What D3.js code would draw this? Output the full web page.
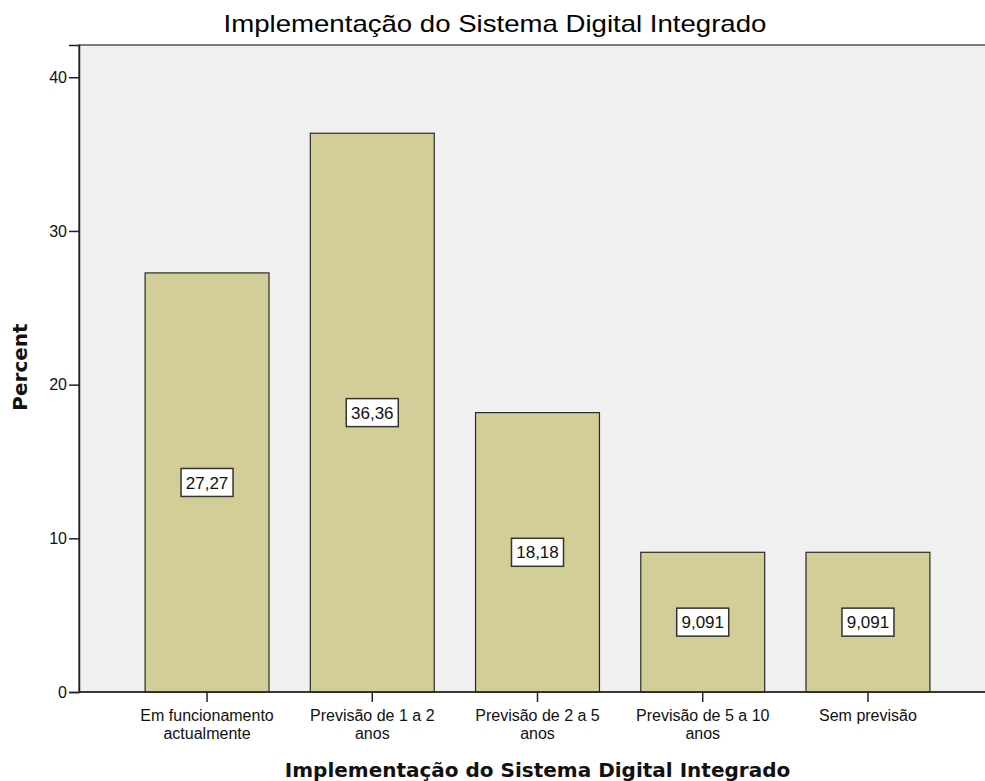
<!DOCTYPE html>
<html>
<head>
<meta charset="utf-8">
<script src="https://cdn.jsdelivr.net/npm/d3@7"></script>
<style>
  body { margin: 0; background: #fff; }
  svg { display: block; }
</style>
</head>
<body>
<div id="chart"></div>
<script>
// Chart data
const categories = ['Em funcionamento\nactualmente', 'Previsão de 1 a 2\nanos', 'Previsão de 2 a 5\nanos', 'Previsão de 5 a 10\nanos', 'Sem previsão'];
const percents = [27.27, 36.36, 18.18, 9.091, 9.091];
const valueLabels = ['27,27', '36,36', '18,18', '9,091', '9,091'];
const yTicks = [0, 10, 20, 30, 40];
const chartTitle = 'Implementação do Sistema Digital Integrado';
const xTitle = 'Implementação do Sistema Digital Integrado';
const yTitle = 'Percent';

const width = 985, height = 781;
const plotLeft = 79, plotRight = 996, plotTop = 45, plotBottom = 692;

const svg = d3.select('#chart').append('svg')
  .attr('width', width)
  .attr('height', height);

// Scales
const x = d3.scaleBand()
  .domain(categories)
  .range([plotLeft, plotRight])
  .paddingInner(0.25)
  .paddingOuter(0.4);

const y = d3.scaleLinear()
  .domain([0, 42.1])
  .range([plotBottom, plotTop]);

// Plot background
svg.append('rect')
  .attr('x', plotLeft)
  .attr('y', plotTop)
  .attr('width', width - plotLeft + 10)
  .attr('height', plotBottom - plotTop)
  .attr('fill', '#f0f0f0')
  .attr('stroke', '#555')
  .attr('stroke-width', 1.5);

// Bars
svg.selectAll('rect.bar')
  .data(percents)
  .enter().append('rect')
    .attr('class', 'bar')
    .attr('x', (d, i) => x(categories[i]))
    .attr('y', d => y(d))
    .attr('width', x.bandwidth())
    .attr('height', d => plotBottom - y(d))
    .attr('fill', '#d3ce97')
    .attr('stroke', '#2a2a2a')
    .attr('stroke-width', 1.2);

// Value labels in boxes
const lbl = svg.selectAll('g.vlabel')
  .data(percents)
  .enter().append('g')
    .attr('class', 'vlabel')
    .attr('transform', (d, i) => `translate(${x(categories[i]) + x.bandwidth() / 2},${y(d / 2)})`);

lbl.append('rect')
  .attr('x', -26)
  .attr('y', -14)
  .attr('width', 52)
  .attr('height', 28)
  .attr('fill', '#fff')
  .attr('stroke', '#333')
  .attr('stroke-width', 1.5);

lbl.append('text')
  .attr('text-anchor', 'middle')
  .attr('dy', '0.36em')
  .style('font-family', 'Liberation Sans, Arial, sans-serif')
  .style('font-size', '17px')
  .style('fill', '#111')
  .text((d, i) => valueLabels[i]);

// Y axis
const yAxis = svg.append('g')
  .attr('transform', `translate(${plotLeft},0)`)
  .call(d3.axisLeft(y).tickValues(yTicks).tickSize(10).tickPadding(2));
yAxis.select('.domain').attr('stroke', '#222').attr('stroke-width', 1.5);
yAxis.selectAll('.tick line').attr('stroke', '#222').attr('stroke-width', 1.5);
yAxis.selectAll('.tick text')
  .style('font-family', 'Liberation Sans, Arial, sans-serif')
  .style('font-size', '16px')
  .style('fill', '#111');

// X axis
const xAxis = svg.append('g')
  .attr('transform', `translate(0,${plotBottom})`)
  .call(d3.axisBottom(x).tickSize(10).tickFormat(''));
xAxis.select('.domain').remove();
xAxis.selectAll('.tick line').attr('stroke', '#222').attr('stroke-width', 1.5);
svg.append('line')
  .attr('x1', plotLeft).attr('x2', width)
  .attr('y1', plotBottom).attr('y2', plotBottom)
  .attr('stroke', '#222').attr('stroke-width', 1.5);

// two-line category labels, one text per line
xAxis.selectAll('.tick').each(function(d) {
  const tick = d3.select(this);
  d.split('\n').forEach((line, k) => {
    tick.append('text')
      .attr('text-anchor', 'middle')
      .attr('x', 0)
      .attr('y', 29 + k * 18)
      .style('font-family', 'Liberation Sans, Arial, sans-serif')
      .style('font-size', '16px')
      .style('fill', '#111')
      .text(line);
  });
});

// Title (rendered slightly wide, like the original)
svg.append('text')
  .attr('transform', `translate(495,32) scale(1.2,1)`)
  .attr('text-anchor', 'middle')
  .style('font-family', 'Liberation Sans, Arial, sans-serif')
  .style('font-size', '23px')
  .style('fill', '#000')
  .text(chartTitle);

// Axis titles
svg.append('text')
  .attr('x', (plotLeft + plotRight) / 2)
  .attr('y', 777)
  .attr('text-anchor', 'middle')
  .style('font-family', 'DejaVu Sans, sans-serif')
  .style('font-weight', 'bold')
  .style('font-size', '20px')
  .style('fill', '#111')
  .text(xTitle);

svg.append('text')
  .attr('transform', `translate(27,367) rotate(-90)`)
  .attr('text-anchor', 'middle')
  .style('font-family', 'DejaVu Sans, sans-serif')
  .style('font-weight', 'bold')
  .style('font-size', '20px')
  .style('fill', '#111')
  .text(yTitle);
</script>
</body>
</html>
